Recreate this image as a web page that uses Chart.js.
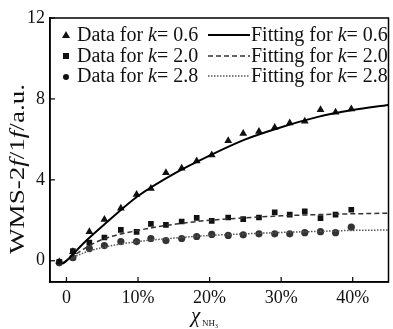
<!DOCTYPE html>
<html><head><meta charset="utf-8">
<script src="https://cdn.jsdelivr.net/npm/chart.js@4"></script>
<style>html,body{margin:0;padding:0;background:#fff;}#wrap{width:393px;height:329px;}</style>
</head><body><div id="wrap"><canvas id="c" width="393" height="329"></canvas></div>
<script>
const xTicks = [0, 10, 20, 30, 40];
const yTicks = [0, 4, 8, 12];
const dataX = [-1.0, 0.9, 3.2, 5.3, 7.6, 9.8, 11.8, 13.9, 16.1, 18.2, 20.3, 22.6, 24.7, 26.9, 29.1, 31.2, 33.3, 35.5, 37.6, 39.8];
const dataK06 = [-0.05, 0.45, 1.44, 2.04, 2.6, 3.27, 3.57, 4.35, 4.57, 4.93, 5.23, 5.93, 6.29, 6.39, 6.59, 6.81, 6.89, 7.46, 7.34, 7.5];
const dataK20 = [-0.05, 0.48, 0.9, 1.15, 1.53, 1.43, 1.82, 1.77, 1.94, 2.12, 1.97, 2.14, 2.06, 2.14, 2.39, 2.28, 2.44, 2.11, 2.28, 2.52];
const dataK28 = [-0.1, 0.15, 0.6, 0.75, 0.95, 0.95, 1.1, 1.0, 1.1, 1.2, 1.3, 1.25, 1.28, 1.33, 1.33, 1.33, 1.39, 1.44, 1.39, 1.66];
const fitX = [-0.5, 0, 2.5, 5, 10, 15, 20, 25, 30, 35, 40, 45];
const fitK06 = [-0.15, 0, 0.9, 1.7, 3.2, 4.3, 5.2, 6.0, 6.6, 7.1, 7.45, 7.7];
const fitK20 = [-0.1, 0, 0.6, 1.05, 1.5, 1.8, 2.0, 2.12, 2.22, 2.28, 2.32, 2.35];
const fitK28 = [-0.1, 0, 0.4, 0.65, 0.95, 1.12, 1.25, 1.33, 1.4, 1.45, 1.5, 1.52];
const kLabels = ['0.6', '2.0', '2.8'];

const SERIF = '"Liberation Serif", "DejaVu Serif", serif';
const pts = (xs, ys) => xs.map((x, i) => ({x, y: ys[i]}));

const deco = {
  id: 'deco',
  afterDraw(chart) {
    const ctx = chart.ctx, a = chart.chartArea;
    const xs = chart.scales.x, ys = chart.scales.y;
    ctx.save();
    // frame
    ctx.strokeStyle = '#000'; ctx.lineWidth = 1.5;
    ctx.strokeRect(a.left, a.top, a.right - a.left, a.bottom - a.top);
    // inward ticks
    ctx.lineWidth = 1.2;
    xTicks.forEach(v => { const p = xs.getPixelForValue(v); ctx.beginPath(); ctx.moveTo(p, a.bottom); ctx.lineTo(p, a.bottom - 5); ctx.stroke(); });
    yTicks.forEach(v => { const p = ys.getPixelForValue(v); ctx.beginPath(); ctx.moveTo(a.left, p); ctx.lineTo(a.left + 5, p); ctx.stroke(); });
    // legend
    ctx.fillStyle = '#111';
    ctx.textBaseline = 'middle';
    const rowsY = [35, 56, 76];
    const styles = [[], [5, 3], [1.5, 1.5]];
    const lcol = ['#000', '#333', '#555'];
    rowsY.forEach((yy, i) => {
      // marker
      ctx.fillStyle = '#111';
      ctx.beginPath();
      if (i === 0) { ctx.moveTo(66, yy - 4); ctx.lineTo(70, yy + 3); ctx.lineTo(62, yy + 3); ctx.closePath(); }
      else if (i === 1) { ctx.rect(63, yy - 3, 6, 6); }
      else { ctx.arc(66, yy + 1, 3, 0, Math.PI * 2); }
      ctx.fill();
      let x = 77;
      const seg = (t, it) => { ctx.font = (it ? 'italic ' : '') + '20px ' + SERIF; ctx.fillText(t, x, yy + 1); x += ctx.measureText(t).width; };
      ctx.fillStyle = '#111';
      seg('Data for ', false); seg('k', true); seg('= ' + kLabels[i], false);
      // line sample
      ctx.strokeStyle = lcol[i]; ctx.lineWidth = i === 0 ? 2 : 1.5; ctx.setLineDash(styles[i]);
      ctx.beginPath(); ctx.moveTo(208, yy); ctx.lineTo(250, yy); ctx.stroke(); ctx.setLineDash([]);
      x = 251;
      seg('Fitting for ', false); seg('k', true); seg('= ' + kLabels[i], false);
    });
    // y title
    ctx.save();
    ctx.translate(19, 169); ctx.rotate(-Math.PI / 2);
    const parts = [['WMS-2', false], ['f', true], ['/1', false], ['f', true], ['/a.u.', false]];
    let tw = 0;
    parts.forEach(p => { ctx.font = (p[1] ? 'italic ' : '') + '20px ' + SERIF; tw += ctx.measureText(p[0]).width; });
    const sc = 170 / tw;
    ctx.scale(sc, 1);
    let x = -tw / 2;
    ctx.fillStyle = '#111'; ctx.textBaseline = 'middle';
    parts.forEach(p => { ctx.font = (p[1] ? 'italic ' : '') + '20px ' + SERIF; ctx.fillText(p[0], x, 0); x += ctx.measureText(p[0]).width; });
    ctx.restore();
    // x title
    ctx.fillStyle = '#111'; ctx.textBaseline = 'alphabetic';
    ctx.font = 'italic 21px ' + SERIF;
    ctx.fillText('χ', 191, 322);
    ctx.font = '9px ' + SERIF;
    ctx.fillText('NH', 202, 326);
    ctx.font = '6px ' + SERIF;
    ctx.fillText('3', 215, 328);
    ctx.restore();
  }
};

new Chart(document.getElementById('c'), {
  type: 'scatter',
  data: {
    datasets: [
      {label: 'Fitting for k= 0.6', data: pts(fitX, fitK06), showLine: true, pointRadius: 0, borderColor: '#000', borderWidth: 2, cubicInterpolationMode: 'monotone'},
      {label: 'Fitting for k= 2.0', data: pts(fitX, fitK20), showLine: true, pointRadius: 0, borderColor: '#333', borderWidth: 1.5, borderDash: [5, 3], cubicInterpolationMode: 'monotone'},
      {label: 'Fitting for k= 2.8', data: pts(fitX, fitK28), showLine: true, pointRadius: 0, borderColor: '#555', borderWidth: 1.5, borderDash: [1.5, 1.5], cubicInterpolationMode: 'monotone'},
      {label: 'Data for k= 0.6', data: pts(dataX, dataK06), pointStyle: 'triangle', pointRadius: 4.5, backgroundColor: '#111', borderColor: '#111', borderWidth: 0},
      {label: 'Data for k= 2.0', data: pts(dataX, dataK20), pointStyle: 'rect', pointRadius: 4, backgroundColor: '#111', borderColor: '#111', borderWidth: 0},
      {label: 'Data for k= 2.8', data: pts(dataX, dataK28), pointStyle: 'circle', pointRadius: 3.6, backgroundColor: '#333', borderColor: '#333', borderWidth: 0}
    ]
  },
  options: {
    responsive: false, animation: false, devicePixelRatio: 1,
    layout: {padding: {top: 18, right: 2, left: 0, bottom: 0}},
    plugins: {legend: {display: false}, tooltip: {enabled: false}},
    scales: {
      x: {
        type: 'linear', min: -2.3, max: 45,
        afterBuildTicks: s => { s.ticks = xTicks.map(v => ({value: v})); },
        afterFit: s => { s.height = 47; },
        grid: {display: false, drawTicks: false},
        border: {display: true, color: '#000', width: 1.5},
        ticks: {padding: 5, color: '#111', font: {family: SERIF, size: 18}, maxRotation: 0,
          callback: v => v === 0 ? '0' : v + '%'}
      },
      y: {
        type: 'linear', min: -1.05, max: 12,
        afterBuildTicks: s => { s.ticks = yTicks.map(v => ({value: v})); },
        afterFit: s => { s.width = 50; },
        grid: {display: false, drawTicks: false},
        border: {display: true, color: '#000', width: 1.5},
        ticks: {padding: 5, color: '#111', font: {family: SERIF, size: 18}}
      }
    }
  },
  plugins: [deco]
});
</script></body></html>
